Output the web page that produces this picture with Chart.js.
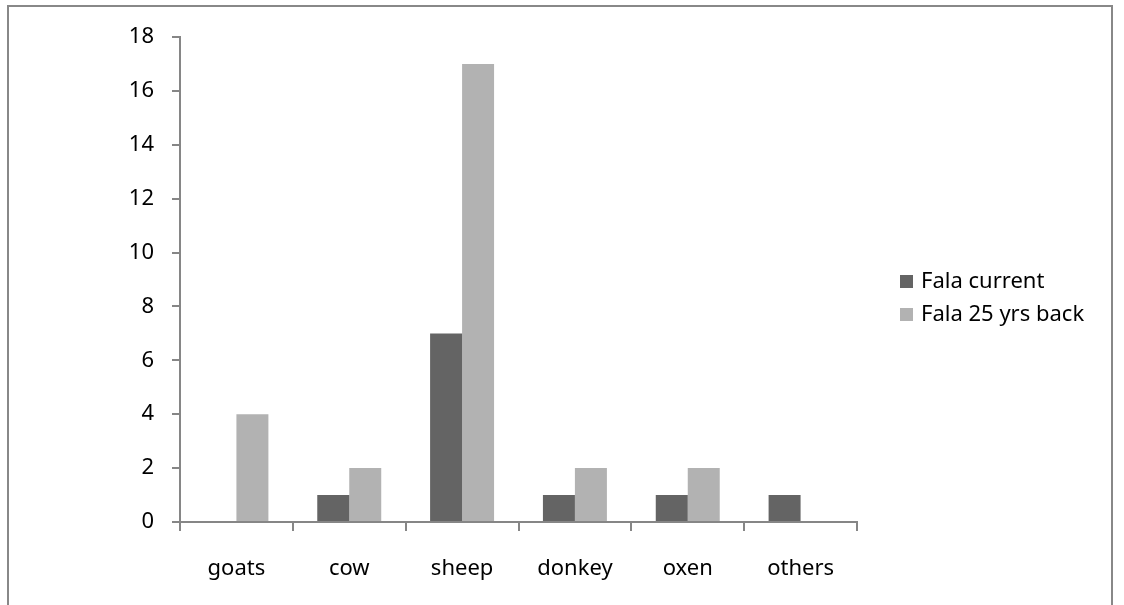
<!DOCTYPE html>
<html>
<head>
<meta charset="utf-8">
<script src="https://cdn.jsdelivr.net/npm/chart.js@4"></script>
<style>
  html, body { margin: 0; padding: 0; background: #fff; overflow: hidden; }
  #wrap { position: relative; width: 1124px; height: 605px; }
  #frame { position: absolute; left: 7px; top: 5px; width: 1106px; height: 700px; border: 2px solid #888888; box-sizing: border-box; }
  #chart { position: absolute; left: 0; top: 0; }
</style>
</head>
<body>
<div id="wrap">
  <div id="frame"></div>
  <canvas id="chart" width="1124" height="605"></canvas>
</div>
<script>
// 가축 종류와 두 시점의 마리 수
const animals = ['goats', 'cow', 'sheep', 'donkey', 'oxen', 'others'];
const falaCurrent = [0, 1, 7, 1, 1, 1];
const fala25Back = [4, 2, 17, 2, 2, 0];
const seriesNames = ['Fala current', 'Fala 25 yrs back'];
const seriesColors = ['#646464', '#b2b2b2'];
const yTicks = [0, 2, 4, 6, 8, 10, 12, 14, 16, 18];

const axisColor = '#868686';
const labelFont = { family: '"Noto Sans", sans-serif', size: 22 };

// 오른쪽 범례 직접 그리기
const sideLegend = {
    id: 'sideLegend',
    afterDraw(chart) {
        const ctx = chart.ctx;
        ctx.save();
        ctx.font = labelFont.size + 'px ' + labelFont.family;
        ctx.textBaseline = 'middle';
        chart.data.datasets.forEach(function (ds, i) {
            const cy = 282 + i * 33;
            ctx.fillStyle = ds.backgroundColor;
            ctx.fillRect(900, cy - 7, 13, 13);
            ctx.fillStyle = '#000';
            ctx.fillText(ds.label, 921, cy);
        });
        ctx.restore();
    }
};

const ctx = document.getElementById('chart').getContext('2d');
new Chart(ctx, {
    type: 'bar',
    data: {
        labels: animals,
        datasets: [
            {
                label: seriesNames[0],
                data: falaCurrent,
                backgroundColor: seriesColors[0],
                categoryPercentage: 0.567,
                barPercentage: 1
            },
            {
                label: seriesNames[1],
                data: fala25Back,
                backgroundColor: seriesColors[1],
                categoryPercentage: 0.567,
                barPercentage: 1
            }
        ]
    },
    options: {
        responsive: false,
        animation: false,
        layout: {
            padding: { left: 0, top: 37, right: 267, bottom: 0 }
        },
        plugins: {
            legend: { display: false },
            tooltip: { enabled: false }
        },
        scales: {
            x: {
                grid: {
                    drawOnChartArea: false,
                    color: axisColor,
                    lineWidth: 2,
                    tickLength: 9
                },
                border: { color: axisColor, width: 2 },
                ticks: {
                    color: '#000',
                    font: labelFont,
                    padding: 25
                },
                afterFit: function (scale) { scale.height = 83; }
            },
            y: {
                min: 0,
                max: 18,
                afterBuildTicks: function (scale) {
                    scale.ticks = yTicks.map(function (v) { return { value: v }; });
                },
                grid: {
                    drawOnChartArea: false,
                    color: axisColor,
                    lineWidth: 2,
                    tickLength: 8
                },
                border: { color: axisColor, width: 2 },
                ticks: {
                    color: '#000',
                    font: labelFont,
                    padding: 18
                },
                afterFit: function (scale) { scale.width = 180; }
            }
        }
    },
    plugins: [sideLegend]
});
</script>
</body>
</html>
